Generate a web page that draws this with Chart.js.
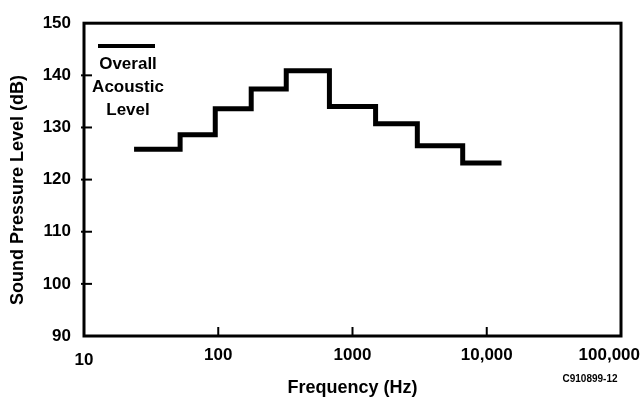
<!DOCTYPE html>
<html>
<head>
<meta charset="utf-8">
<script src="https://cdn.jsdelivr.net/npm/chart.js@4.4.0/dist/chart.umd.min.js"></script>
<style>
  html, body { margin: 0; padding: 0; background: #fff; }
  #wrap { width: 641px; height: 402px; }
</style>
</head>
<body>
<div id="wrap"><canvas id="grafico-espectro"></canvas></div>
<script>
// Octave band edges (Hz) and overall acoustic level per band (dB)
const bandEdges = [23.6, 52, 95, 176, 321, 673, 1486, 3040, 6620, 12880];
const levels = [125.8, 128.6, 133.6, 137.4, 140.9, 134.0, 130.7, 126.5, 123.2];

const xTickValues = [10, 100, 1000, 10000, 100000];
const xTickLabels = ['10', '100', '1000', '10,000', '100,000'];
const yMin = 90, yMax = 150, yStep = 10;

const FONT = '"Liberation Sans", Arial, Helvetica, sans-serif';

// last edge closes the final band
const pontos = bandEdges.map((f, i) => ({ x: f, y: levels[Math.min(i, levels.length - 1)] }));

// frame, inward ticks, x labels and annotations
const decoracao = {
  id: 'decoracao',
  afterDraw(chart) {
    const { ctx, chartArea: a, scales: { x, y } } = chart;
    ctx.save();
    ctx.strokeStyle = '#000';
    ctx.fillStyle = '#000';
    ctx.lineWidth = 3;
    ctx.strokeRect(a.left, a.top, a.right - a.left, a.bottom - a.top);

    ctx.lineWidth = 2;
    y.ticks.forEach(t => {
      if (t.value <= yMin || t.value >= yMax) return;
      const py = y.getPixelForValue(t.value);
      ctx.beginPath();
      ctx.moveTo(a.left - 3, py);
      ctx.lineTo(a.left + 8, py);
      ctx.stroke();
    });

    ctx.font = 'bold 17px ' + FONT;
    ctx.textAlign = 'center';
    ctx.textBaseline = 'middle';
    x.ticks.forEach((t, i) => {
      const px = x.getPixelForValue(t.value);
      if (i > 0 && i < x.ticks.length - 1) {
        ctx.beginPath();
        ctx.moveTo(px, a.bottom);
        ctx.lineTo(px, a.bottom - 9);
        ctx.stroke();
      }
      const txt = xTickLabels[i];
      const w = ctx.measureText(txt).width;
      let cx = px;
      if (cx + w / 2 > chart.width - 1) cx = chart.width - 1 - w / 2;
      ctx.fillText(txt, cx, a.bottom + (i === 0 ? 24 : 19));
    });

    // legend
    ctx.lineWidth = 4;
    ctx.beginPath();
    ctx.moveTo(98, 46);
    ctx.lineTo(155, 46);
    ctx.stroke();
    ctx.font = 'bold 17px ' + FONT;
    ctx.fillText('Overall', 128, 64);
    ctx.fillText('Acoustic', 128, 87);
    ctx.fillText('Level', 128, 110);

    // y title
    ctx.save();
    ctx.translate(18, 190);
    ctx.rotate(-Math.PI / 2);
    ctx.font = 'bold 18px ' + FONT;
    ctx.fillText('Sound Pressure Level (dB)', 0, 0);
    ctx.restore();

    ctx.font = 'bold 10px ' + FONT;
    ctx.fillText('C910899-12', 590, 379);
    ctx.restore();
  }
};

new Chart(document.getElementById('grafico-espectro'), {
  type: 'line',
  data: {
    datasets: [{
      label: 'Overall Acoustic Level',
      data: pontos,
      borderColor: '#000',
      borderWidth: 5,
      pointRadius: 0,
      stepped: true,
      fill: false
    }]
  },
  options: {
    responsive: true,
    maintainAspectRatio: false,
    animation: false,
    layout: { padding: { top: 18, right: 20, left: 0, bottom: 0 } },
    scales: {
      x: {
        type: 'logarithmic',
        min: 10,
        max: 100000,
        afterBuildTicks: scale => { scale.ticks = xTickValues.map(v => ({ value: v })); },
        afterFit: scale => { scale.height = 66; },
        grid: { display: false, drawTicks: false },
        border: { display: false },
        ticks: { display: false },
        title: {
          display: true,
          text: 'Frequency (Hz)',
          color: '#000',
          font: { family: FONT, size: 18, weight: 'bold' },
          padding: { top: 0, bottom: 3 }
        }
      },
      y: {
        min: yMin,
        max: yMax,
        afterFit: scale => { scale.width = 84; },
        grid: { display: false, drawTicks: false },
        border: { display: false },
        ticks: {
          stepSize: yStep,
          padding: 13,
          color: '#000',
          font: { family: FONT, size: 17, weight: 'bold' }
        }
      }
    },
    plugins: {
      legend: { display: false },
      tooltip: { enabled: false }
    }
  },
  plugins: [decoracao]
});
</script>
</body>
</html>
